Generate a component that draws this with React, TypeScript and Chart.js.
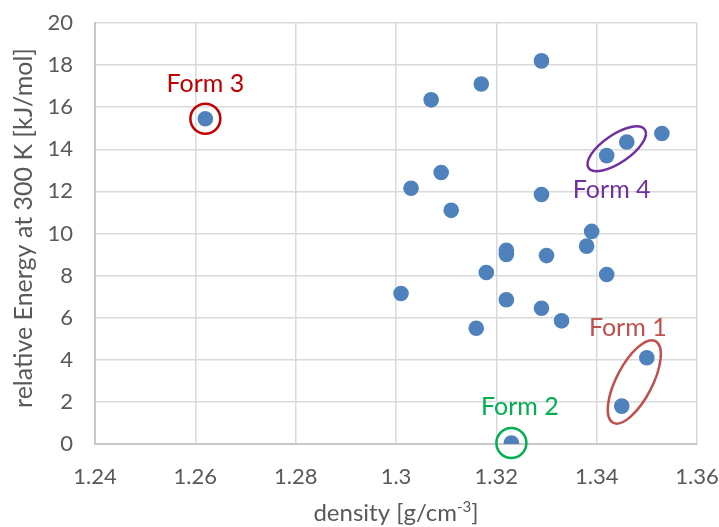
import { useEffect, useRef } from "react";
import { Chart, registerables } from "chart.js";

Chart.register(...registerables);

// ---- data ----
const density = [
  1.262, 1.329, 1.317, 1.307, 1.353, 1.346, 1.342, 1.309, 1.303, 1.329, 1.311, 1.339, 1.338,
  1.322, 1.322, 1.330, 1.318, 1.342, 1.301, 1.322, 1.329, 1.333, 1.316, 1.350, 1.345, 1.323,
];
const energy = [
  15.45, 18.2, 17.1, 16.35, 14.75, 14.35, 13.7, 12.9, 12.15, 11.85, 11.1, 10.1, 9.4,
  9.2, 9.0, 8.95, 8.15, 8.05, 7.15, 6.85, 6.45, 5.85, 5.5, 4.1, 1.8, 0.05,
];
const xTickValues = [1.24, 1.26, 1.28, 1.3, 1.32, 1.34, 1.36];
const xTickLabels = ["1.24", "1.26", "1.28", "1.3", "1.32", "1.34", "1.36"];
const yTickValues = [0, 2, 4, 6, 8, 10, 12, 14, 16, 18, 20];
const yTickLabels = ["0", "2", "4", "6", "8", "10", "12", "14", "16", "18", "20"];

const formNames = ["Form 1", "Form 2", "Form 3", "Form 4"];
const formMembers = [[23, 24], [25], [0], [5, 6]];
const formLabelX = [1.3462, 1.3247, 1.262, 1.343];
const formLabelY = [5.5, 1.76, 17.1, 12.07];

const yTitle = "relative Energy at 300 K [kJ/mol]";
const xTitleMain = "density [g/cm";
const xTitleSup = "-3";
const xTitleEnd = "]";

// ---- styles ----
const formColors = ["#C0504D", "#00B050", "#C00000", "#7030A0"];
const formSemiMajor = [46, 15, 15, 34];
const formSemiMinor = [18, 15, 15, 14];
const FONT = "Lato, 'Open Sans', sans-serif";
const TEXT = "#595959";

const annotationPlugin = {
  id: "forms",
  afterDatasetsDraw(chart: any) {
    const ctx = chart.ctx;
    const xs = chart.scales.x;
    const ys = chart.scales.y;
    ctx.save();
    formNames.forEach((name, i) => {
      const pts = formMembers[i].map((k) => ({
        x: xs.getPixelForValue(density[k]),
        y: ys.getPixelForValue(energy[k]),
      }));
      let cx = 0, cy = 0;
      pts.forEach((p) => { cx += p.x; cy += p.y; });
      cx /= pts.length; cy /= pts.length;
      let angle = 0;
      if (pts.length > 1) {
        angle = Math.atan2(pts[1].y - pts[0].y, pts[1].x - pts[0].x);
      }
      ctx.beginPath();
      ctx.ellipse(cx, cy, formSemiMajor[i], formSemiMinor[i], angle, 0, Math.PI * 2);
      ctx.strokeStyle = formColors[i];
      ctx.lineWidth = 2.5;
      ctx.stroke();

      ctx.fillStyle = formColors[i];
      ctx.font = `25px ${FONT}`;
      ctx.textAlign = "center";
      ctx.textBaseline = "middle";
      ctx.fillText(name, xs.getPixelForValue(formLabelX[i]), ys.getPixelForValue(formLabelY[i]));
    });
    ctx.restore();
  },
  afterDraw(chart: any) {
    const ctx = chart.ctx;
    const area = chart.chartArea;
    ctx.save();
    ctx.fillStyle = TEXT;
    // y title
    ctx.font = `25px ${FONT}`;
    ctx.translate(24, 228);
    ctx.rotate(-Math.PI / 2);
    ctx.textAlign = "center";
    ctx.textBaseline = "middle";
    ctx.fillText(yTitle, 0, 0);
    ctx.restore();

    ctx.save();
    ctx.fillStyle = TEXT;
    ctx.textBaseline = "alphabetic";
    ctx.textAlign = "left";
    const mainFont = `24px ${FONT}`;
    const supFont = `15px ${FONT}`;
    ctx.font = mainFont;
    const w1 = ctx.measureText(xTitleMain).width;
    const w3 = ctx.measureText(xTitleEnd).width;
    ctx.font = supFont;
    const w2 = ctx.measureText(xTitleSup).width;
    const total = w1 + w2 + w3;
    let x = (area.left + area.right) / 2 - total / 2;
    const base = 521;
    ctx.font = mainFont;
    ctx.fillText(xTitleMain, x, base);
    x += w1;
    ctx.font = supFont;
    ctx.fillText(xTitleSup, x, base - 9);
    x += w2;
    ctx.font = mainFont;
    ctx.fillText(xTitleEnd, x, base);
    ctx.restore();
  },
};

export default function App() {
  const ref = useRef<HTMLCanvasElement | null>(null);

  useEffect(() => {
    if (!ref.current) return;
    const chart = new Chart(ref.current, {
      type: "scatter",
      data: {
        datasets: [
          {
            label: "energy",
            data: density.map((d, i) => ({ x: d, y: energy[i] })),
            backgroundColor: "#4F81BD",
            borderWidth: 0,
            pointRadius: 7.8,
            pointHoverRadius: 7.8,
          },
        ],
      },
      options: {
        animation: false,
        responsive: true,
        maintainAspectRatio: false,
        layout: { padding: { left: 0, top: 23, right: 22, bottom: 0 } },
        plugins: { legend: { display: false }, tooltip: { enabled: false } },
        events: [],
        scales: {
          x: {
            type: "linear",
            min: 1.24,
            max: 1.36,
            afterFit: (s: any) => {
              s.height = 83;
              s.paddingLeft = 0;
              s.paddingRight = 0;
              s.paddingTop = 0;
              s.paddingBottom = 0;
            },
            afterBuildTicks: (s: any) => { s.ticks = xTickValues.map((v) => ({ value: v })); },
            ticks: {
              callback: (v: any) => xTickLabels[xTickValues.findIndex((t) => Math.abs(t - v) < 1e-9)],
              font: { family: FONT, size: 22 },
              color: TEXT,
              padding: 20,
              maxRotation: 0,
            },
            grid: { color: "#D9D9D9", lineWidth: 1.5, drawTicks: false },
            border: { color: "#C8C8C8", width: 2 },
          },
          y: {
            type: "linear",
            min: 0,
            max: 20,
            afterFit: (s: any) => {
              s.width = 95;
              s.paddingLeft = 0;
              s.paddingRight = 0;
              s.paddingTop = 0;
              s.paddingBottom = 0;
            },
            afterBuildTicks: (s: any) => { s.ticks = yTickValues.map((v) => ({ value: v })); },
            ticks: {
              callback: (v: any) => yTickLabels[yTickValues.indexOf(v)],
              font: { family: FONT, size: 22 },
              color: TEXT,
              padding: 22,
            },
            grid: { color: "#D9D9D9", lineWidth: 1.5, drawTicks: false },
            border: { color: "#C8C8C8", width: 2 },
          },
        },
      },
      plugins: [annotationPlugin],
    });
    return () => chart.destroy();
  }, []);

  return (
    <div style={{ position: "fixed", left: 0, top: 0, width: 719, height: 527, background: "#fff" }}>
      <canvas ref={ref} />
    </div>
  );
}
